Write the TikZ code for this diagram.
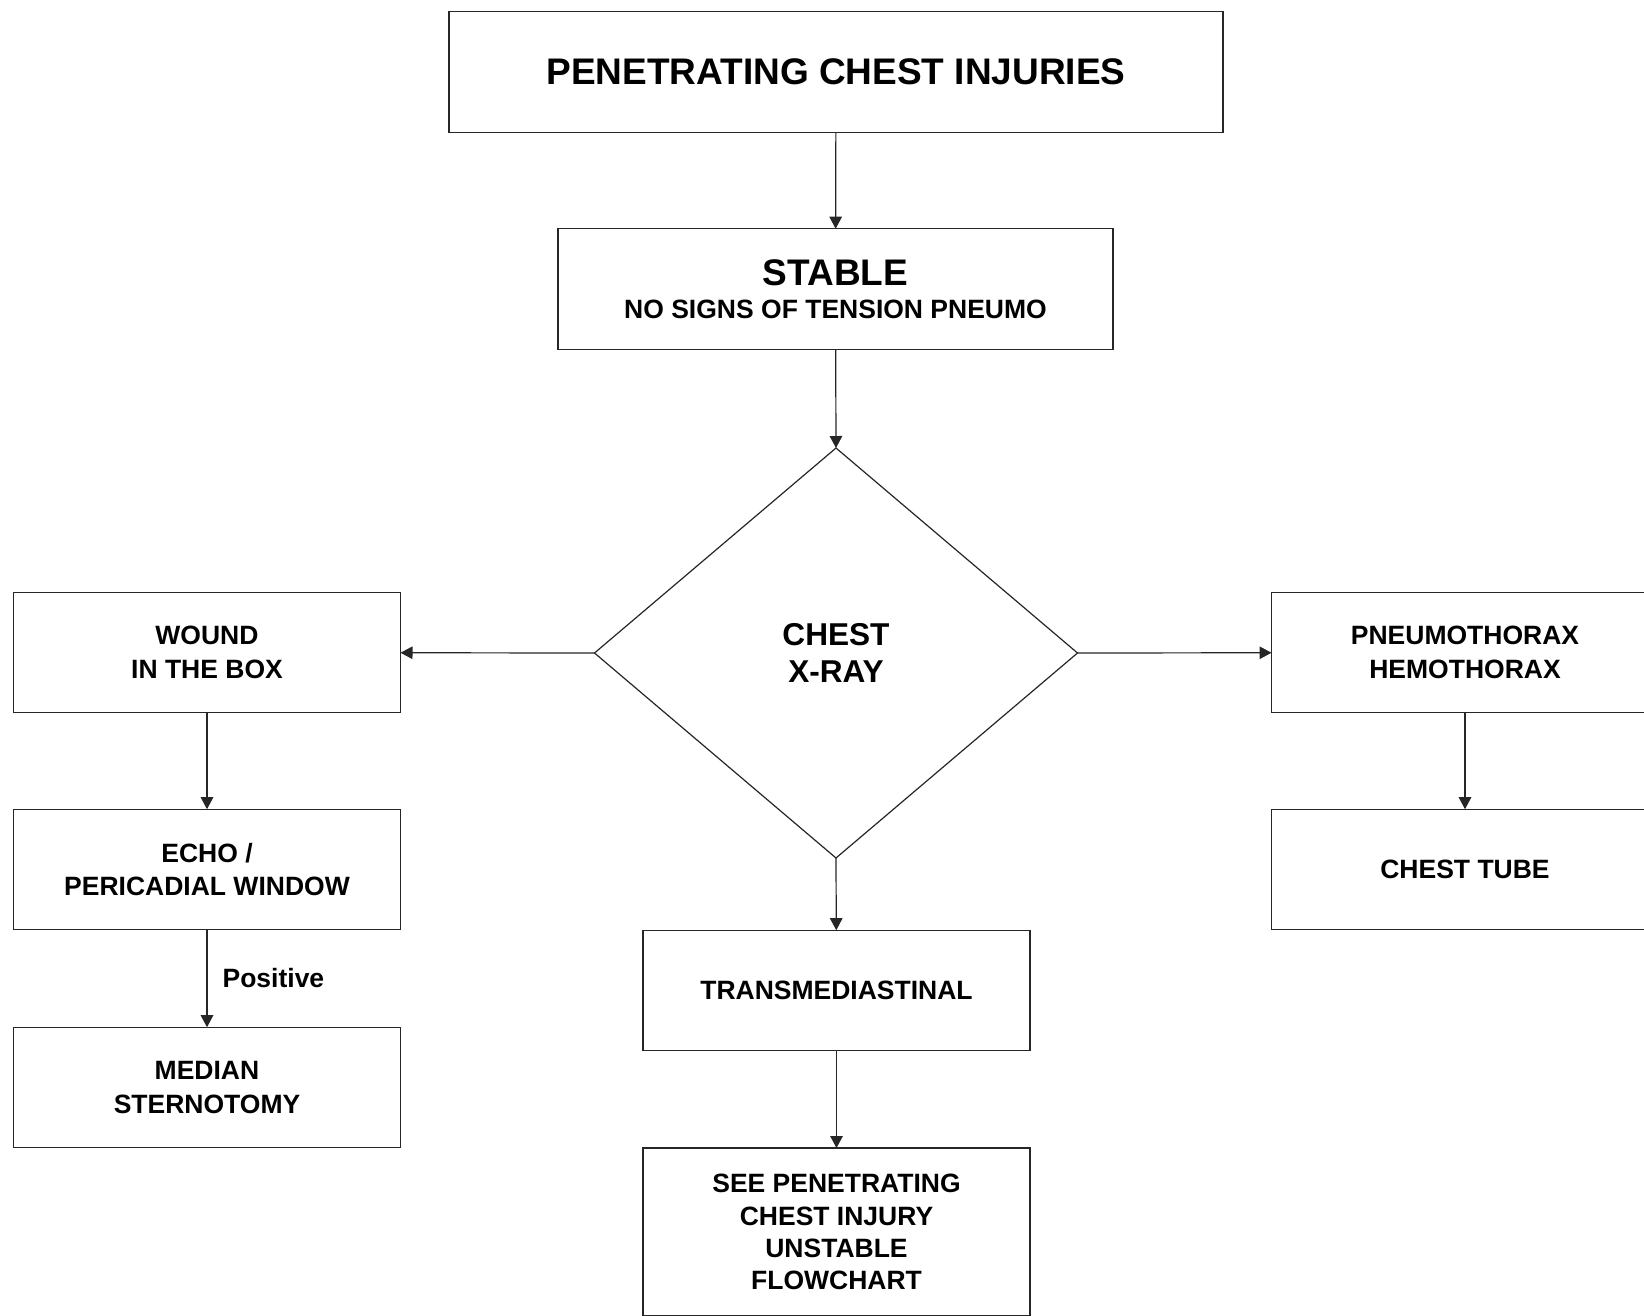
\documentclass[tikz,border=0pt]{standalone}
\usepackage{fontspec}
\setmainfont{Liberation Sans}
\usetikzlibrary{shapes.geometric,arrows.meta}
\begin{document}
\begin{tikzpicture}[x=1pt,y=-1pt,
  box/.style={draw=black!85,line width=1.2pt,rectangle,inner sep=0pt,outer sep=0pt,
    minimum width=387pt,minimum height=120.6pt,align=center,
    font=\fontsize{26.5}{33.5}\selectfont\bfseries},
  arr/.style={draw=black!85,line width=1.2pt,-{Triangle[length=12pt,width=12.5pt]}},
  lbl/.style={font=\fontsize{26.5}{33.5}\selectfont\bfseries,inner sep=0pt}]
\useasboundingbox (0,0) rectangle (1644,1315);
\clip (0,0) rectangle (1644,1315);
\fill[white] (0,0) rectangle (1644,1315);

% top row
\node[box,minimum width=774pt,font=\fontsize{37}{44}\selectfont\bfseries] (top) at (836,72) {PENETRATING CHEST INJURIES};
\node[box,minimum width=555pt] (stable) at (835.5,289)
  {{\fontsize{37}{44}\selectfont STABLE}\\[-1pt]NO SIGNS OF TENSION PNEUMO};

% decision
\node[draw=black!85,line width=1.2pt,diamond,minimum width=483pt,minimum height=410pt,
  inner sep=0pt,outer sep=0pt,align=center,
  font=\fontsize{31.6}{36.7}\selectfont\bfseries] (xray) at (836,653) {CHEST\\X-RAY};

% left branch
\node[box] (wound) at (207,652.5) {WOUND\\IN THE BOX};
\node[box] (echo) at (207,869.5) {ECHO /\\PERICADIAL WINDOW};
\node[box] (median) at (207,1087.5) {MEDIAN\\STERNOTOMY};

% right branch
\node[box] (pneumo) at (1465,652.5) {PNEUMOTHORAX\\HEMOTHORAX};
\node[box] (tube) at (1465,869.5) {CHEST TUBE};

% centre branch
\node[box] (trans) at (836.5,990.5) {TRANSMEDIASTINAL};
\node[box,minimum height=168pt,font=\fontsize{26.5}{32.2}\selectfont\bfseries] (see) at (836.5,1232)
  {SEE PENETRATING\\CHEST INJURY\\UNSTABLE\\FLOWCHART};

% connectors
\draw[arr] (top) -- (stable);
\draw[arr] (stable) -- (xray.north);
\draw[arr] (xray.west) -- (wound);
\draw[arr] (xray.east) -- (pneumo);
\draw[arr] (xray.south) -- (trans);
\draw[arr] (trans) -- (see);
\draw[arr] (wound) -- (echo);
\draw[arr] (echo) -- node[lbl,right=15pt] (pos) {Positive} (median);
\draw[arr] (pneumo) -- (tube);
\end{tikzpicture}
\end{document}
